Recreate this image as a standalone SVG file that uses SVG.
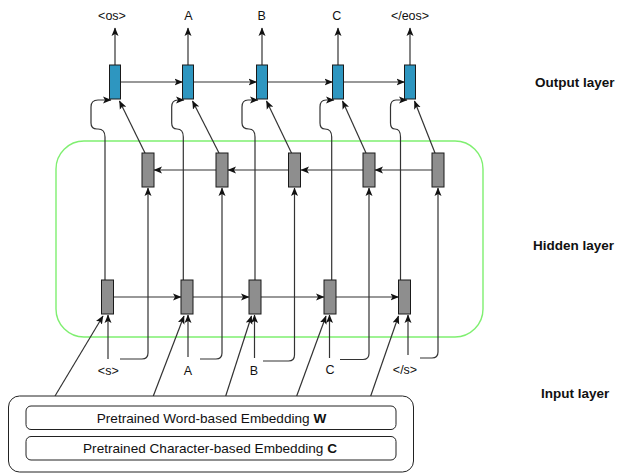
<svg xmlns="http://www.w3.org/2000/svg" width="618" height="474" viewBox="0 0 618 474">
<style>
.c{fill:none;stroke:#333;stroke-width:1.2}
.ob{fill:#2e96c0;stroke:#1a1a1a;stroke-width:1}
.hb{fill:#8e8e8e;stroke:#1a1a1a;stroke-width:1}
.t{font-family:"Liberation Sans",Arial,sans-serif;font-size:12.5px;fill:#111;text-anchor:middle}
.l{font-family:"Liberation Sans",Arial,sans-serif;font-size:13.5px;font-weight:bold;fill:#111}
.e{font-family:"Liberation Sans",Arial,sans-serif;font-size:13.6px;fill:#111;text-anchor:middle}
.bx{fill:#fff;stroke:#222;stroke-width:1}
</style>
<defs>
<marker id="a" markerWidth="9" markerHeight="8" refX="8" refY="4" orient="auto" markerUnits="userSpaceOnUse">
<path d="M0,0.5 L8.5,4 L0,7.5 L2,4 z" fill="#111"/>
</marker>
</defs>
<rect width="618" height="474" fill="#fff"/>

<g id="hidden-layer-box"><rect x="56" y="141" width="427" height="196" rx="28" fill="none" stroke="#7fef70" stroke-width="1.4"/></g>

<g id="connectors">
<!-- output up arrows -->
<path class="c" d="M115,65 V28" marker-end="url(#a)"/>
<path class="c" d="M188,65 V28" marker-end="url(#a)"/>
<path class="c" d="M262,65 V28" marker-end="url(#a)"/>
<path class="c" d="M338,65 V28" marker-end="url(#a)"/>
<path class="c" d="M410,65 V28" marker-end="url(#a)"/>
<!-- output forward -->
<path class="c" d="M120.5,82 H182.5" marker-end="url(#a)"/>
<path class="c" d="M193.5,82 H256.5" marker-end="url(#a)"/>
<path class="c" d="M267.5,82 H332.5" marker-end="url(#a)"/>
<path class="c" d="M343.5,82 H404.5" marker-end="url(#a)"/>
<!-- backward hidden -->
<path class="c" d="M432,170 H375" marker-end="url(#a)"/>
<path class="c" d="M363,170 H301" marker-end="url(#a)"/>
<path class="c" d="M288.5,170 H228" marker-end="url(#a)"/>
<path class="c" d="M216,170 H154" marker-end="url(#a)"/>
<!-- forward hidden -->
<path class="c" d="M113.5,297 H181" marker-end="url(#a)"/>
<path class="c" d="M193,297 H249" marker-end="url(#a)"/>
<path class="c" d="M261,297 H324" marker-end="url(#a)"/>
<path class="c" d="M336,297 H398.5" marker-end="url(#a)"/>
<!-- backward hidden to output (diagonal) -->
<path class="c" d="M145,153 L119.5,101" marker-end="url(#a)"/>
<path class="c" d="M219,153 L192.5,101" marker-end="url(#a)"/>
<path class="c" d="M291.5,153 L266.5,101" marker-end="url(#a)"/>
<path class="c" d="M366,153 L342.5,101" marker-end="url(#a)"/>
<path class="c" d="M435,153 L414.5,101" marker-end="url(#a)"/>
<!-- forward hidden to output (loops) -->
<path class="c" d="M105,280 V137 Q105,129 98,129 H97 Q91,129 91,123 V107 Q91,100 98,100 H111" marker-end="url(#a)"/>
<path class="c" d="M183.3,280 V137 Q183.3,129 177,129 Q171.7,129 171.7,123 V107 Q171.7,100 178,100 H184" marker-end="url(#a)"/>
<path class="c" d="M255,280 V137 Q255,129 249,129 Q242,129 242,123 V107 Q242,100 248,100 H258" marker-end="url(#a)"/>
<path class="c" d="M331.7,280 V137 Q331.7,129 325,129 Q320,129 320,123 V107 Q320,100 326,100 H334" marker-end="url(#a)"/>
<path class="c" d="M400.5,280 V137 Q400.5,129 395,129 Q390.5,129 390.5,123 V107 Q390.5,100 396,100 H407" marker-end="url(#a)"/>
<!-- input vertical -->
<path class="c" d="M108,359 V315" marker-end="url(#a)"/>
<path class="c" d="M188,357 V315" marker-end="url(#a)"/>
<path class="c" d="M254.5,358 V315" marker-end="url(#a)"/>
<path class="c" d="M329.5,358 V315" marker-end="url(#a)"/>
<path class="c" d="M408,355 V315" marker-end="url(#a)"/>
<!-- input to backward hidden -->
<path class="c" d="M120,359 H142 Q148,359 148,353 V188" marker-end="url(#a)"/>
<path class="c" d="M200,359 H216 Q222,359 222,353 V188" marker-end="url(#a)"/>
<path class="c" d="M263,361 H288.5 Q294.5,361 294.5,355 V188" marker-end="url(#a)"/>
<path class="c" d="M340,359.5 H363 Q369,359.5 369,353.5 V188" marker-end="url(#a)"/>
<path class="c" d="M420,358 H432 Q438,358 438,352 V188" marker-end="url(#a)"/>
<!-- embeddings to hidden -->
<path class="c" d="M55,396 L103,316" marker-end="url(#a)"/>
<path class="c" d="M153.3,396 L184,316" marker-end="url(#a)"/>
<path class="c" d="M225.7,396 L251.5,316" marker-end="url(#a)"/>
<path class="c" d="M296.7,396 L326,316" marker-end="url(#a)"/>
<path class="c" d="M370.7,396 L398.5,316" marker-end="url(#a)"/>
</g>

<g id="output-nodes">
<rect class="ob" x="109.5" y="65" width="11" height="34"/>
<rect class="ob" x="182.5" y="65" width="11" height="34"/>
<rect class="ob" x="256.5" y="65" width="11" height="34"/>
<rect class="ob" x="332.5" y="65" width="11" height="34"/>
<rect class="ob" x="404.5" y="65" width="11" height="34"/>
</g>
<g id="backward-hidden-nodes">
<rect class="hb" x="142" y="153" width="12" height="34"/>
<rect class="hb" x="216" y="153" width="12" height="34"/>
<rect class="hb" x="288.5" y="153" width="12" height="34"/>
<rect class="hb" x="363" y="153" width="12" height="34"/>
<rect class="hb" x="432" y="153" width="12" height="34"/>
</g>
<g id="forward-hidden-nodes">
<rect class="hb" x="101.5" y="280" width="12" height="34"/>
<rect class="hb" x="181" y="280" width="12" height="34"/>
<rect class="hb" x="249" y="280" width="12" height="34"/>
<rect class="hb" x="324" y="280" width="12" height="34"/>
<rect class="hb" x="398.5" y="280" width="12" height="34"/>
</g>

<g id="output-labels">
<text class="t" x="112" y="19.5">&lt;os&gt;</text>
<text class="t" x="188.3" y="19.5">A</text>
<text class="t" x="261.7" y="19.5">B</text>
<text class="t" x="336.7" y="19.5">C</text>
<text class="t" x="410" y="19.5">&lt;/eos&gt;</text>
</g>
<g id="input-labels">
<text class="t" x="108.3" y="375">&lt;s&gt;</text>
<text class="t" x="188" y="374.5">A</text>
<text class="t" x="254" y="375">B</text>
<text class="t" x="330" y="374">C</text>
<text class="t" x="405" y="373.5">&lt;/s&gt;</text>
</g>

<g id="embedding">
<rect class="bx" x="8.5" y="396" width="405" height="76" rx="11"/>
<rect class="bx" x="26" y="406" width="370" height="23.5" rx="5"/>
<text class="e" x="211.5" y="422.5">Pretrained Word-based Embedding <tspan font-weight="bold">W</tspan></text>
<rect class="bx" x="26" y="436.5" width="370" height="23.5" rx="5"/>
<text class="e" x="210" y="453">Pretrained Character-based Embedding <tspan font-weight="bold">C</tspan></text>
</g>

<g id="layer-labels">
<text class="l" x="535" y="86.5">Output layer</text>
<text class="l" x="533" y="250">Hidden layer</text>
<text class="l" x="541" y="398">Input layer</text>
</g>
</svg>
